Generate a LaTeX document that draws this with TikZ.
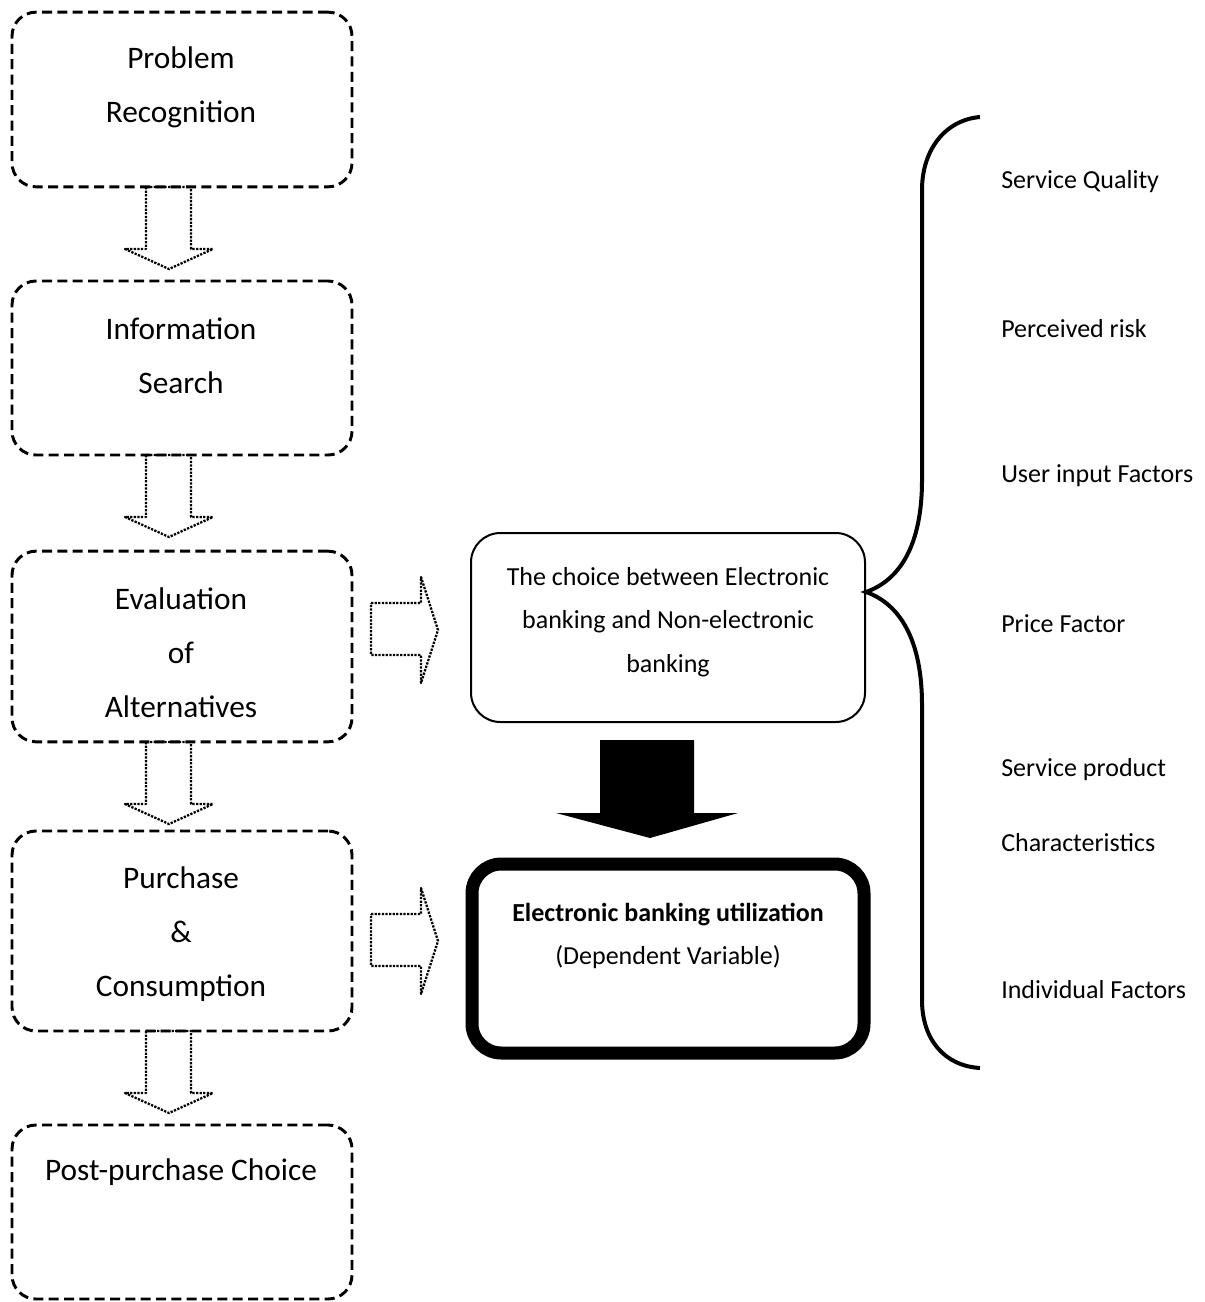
\documentclass[tikz,border=0pt]{standalone}
\usepackage{fontspec}
\setmainfont{Carlito}
\begin{document}
\begin{tikzpicture}[x=0.75pt,y=-0.75pt,
  stage/.style={draw, dash pattern=on 7.5pt off 4pt, line width=2.2pt, rounded corners=18pt, minimum width=255pt, inner sep=0pt},
  stagetext/.style={align=center, inner sep=0pt, font=\fontsize{23.5}{40.5}\selectfont},
  hollow/.style={draw, densely dotted, line width=1.7pt, line join=round},
  factor/.style={anchor=west, inner sep=0pt, font=\fontsize{19.5}{24}\selectfont},
  midtext/.style={align=center, inner sep=0pt, font=\fontsize{19.5}{32.6}\selectfont}]
\useasboundingbox (0,0) rectangle (1205,1302);

% left stage boxes
\node[stage, minimum height=131pt] (b1) at (182,99.5) {};
\node[stage, minimum height=130.5pt] (b2) at (182,368) {};
\node[stage, minimum height=143pt] (b3) at (182,646.5) {};
\node[stage, minimum height=150pt] (b4) at (182,931) {};
\node[stage, minimum height=130.5pt] (b5) at (182,1212) {};

\node[stagetext] (t1) at (181,87) {Problem\\Recognition};
\node[stagetext] (t2) at (181,356) {Information\\Search};
\node[stagetext] (t3) at (181,653) {Evaluation\\of\\Alternatives};
\node[stagetext] (t4) at (181,934) {Purchase\\\&\\Consumption};
\node[stagetext] (t5) at (181,1172) {Post-purchase Choice};

% hollow down arrows
\foreach \y in {187,455,742,1031}{
  \draw[hollow] (146,\y) -- (146,\y+62) -- (125,\y+62) -- (169,\y+82) -- (213,\y+62) -- (191,\y+62) -- (191,\y) -- cycle;
}

% hollow right arrows
\foreach \y in {0,311}{
  \draw[hollow] (371,603+\y) -- (421,603+\y) -- (421,577+\y) -- (438,630+\y) -- (421,683+\y) -- (421,655+\y) -- (371,655+\y) -- cycle;
}

% middle choice box
\node[draw, line width=1.5pt, rounded corners=22pt, minimum width=295.5pt, minimum height=141.75pt, inner sep=0pt] (choice) at (668,627.5) {};
\node[midtext] (choicetext) at (668,622) {The choice between Electronic\\banking and Non-electronic\\banking};

% black block arrow
\fill (600,740) -- (694,740) -- (694,813) -- (738,813) -- (650,838) -- (556,813) -- (600,813) -- cycle;

% dependent variable box
\node[draw, line width=9.75pt, rounded corners=22pt, minimum width=294pt, minimum height=141.75pt, inner sep=0pt] (dep) at (668,958.5) {};
\node[midtext] (deptext) at (668,936) {\textbf{Electronic banking utilization}\\(Dependent Variable)};

% brace
\coordinate (tip) at (866,592);
\draw[line width=3pt] (980,117) .. controls (945,120) and (922,150) .. (922,190) -- (922,480) .. controls (922,545) and (900,580) .. (tip) .. controls (900,604) and (922,640) .. (922,705) -- (922,1000) .. controls (922,1040) and (945,1066) .. (980,1068);

% factors
\node[factor] (f1) at (1001,182) {Service Quality};
\node[factor] (f2) at (1001,329) {Perceived risk};
\node[factor] (f3) at (1001,476) {User input Factors};
\node[factor] (f4) at (1001,624) {Price Factor};
\node[factor] (f5) at (1001,770) {Service product};
\node[factor] (f6) at (1001,843) {Characteristics};
\node[factor] (f7) at (1001,990) {Individual Factors};
\end{tikzpicture}
\end{document}
